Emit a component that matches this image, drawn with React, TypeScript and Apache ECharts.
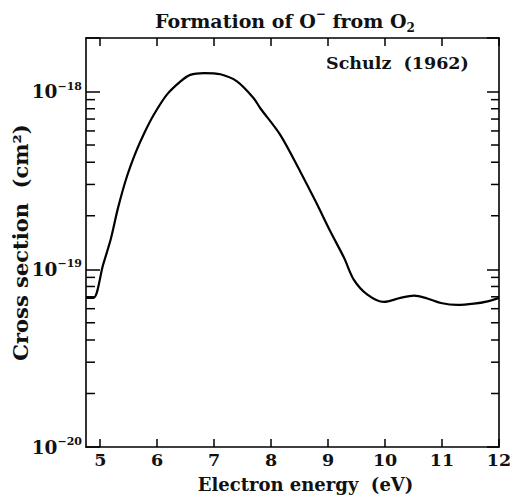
import React, { useEffect, useRef } from "react";
import * as echarts from "echarts";

const energy = [4.75, 4.88, 5.05, 5.19, 5.31, 5.46, 5.63, 5.78, 5.94, 6.17, 6.41, 6.58, 6.82, 7.11, 7.4, 7.69, 7.81, 8.16, 8.51, 8.78, 9.04, 9.28, 9.45, 9.69, 9.98, 10.27, 10.51, 10.74, 10.98, 11.27, 11.56, 11.8, 12.0];
const crossSection = [6.9e-20, 6.9e-20, 1.06e-19, 1.5e-19, 2.2e-19, 3.26e-19, 4.6e-19, 5.9e-19, 7.4e-19, 9.6e-19, 1.14e-18, 1.24e-18, 1.27e-18, 1.25e-18, 1.14e-18, 9.2e-19, 8.05e-19, 5.7e-19, 3.55e-19, 2.41e-19, 1.63e-19, 1.16e-19, 8.75e-20, 7.2e-20, 6.55e-20, 6.9e-20, 7.1e-20, 6.85e-20, 6.46e-20, 6.3e-20, 6.4e-20, 6.6e-20, 6.9e-20];
const xTicks = [5, 6, 7, 8, 9, 10, 11, 12];
const minorTicks = [2e-20, 3e-20, 4e-20, 5e-20, 6e-20, 7e-20, 8e-20, 9e-20, 2e-19, 3e-19, 4e-19, 5e-19, 6e-19, 7e-19, 8e-19, 9e-19];

const FONT = "'DejaVu Serif', 'Liberation Serif', serif";

export default function App() {
  const ref = useRef<HTMLDivElement>(null);
  useEffect(() => {
    const chart = echarts.init(ref.current!, null, { renderer: "svg" });
    const xMin = 4.75, xMax = 12;
    const axisLine = { show: true, lineStyle: { color: "#000", width: 1.6 } };
    const decadeLabel = (v: number) => {
      const e = Math.log10(v);
      const r = Math.round(e);
      if (Math.abs(e - r) > 1e-6) return "";
      return "{b|10}{s|\u2212" + Math.abs(r) + "}";
    };
    chart.setOption({
      animation: false,
      backgroundColor: "#fff",
      title: {
        text: "{a|Formation of O}{sup|\u2212}{a| from O}{sub|2}",
        left: 280,
        textAlign: "center",
        top: 3,
        textStyle: {
          rich: {
            a: { fontFamily: FONT, fontWeight: "bold", fontSize: 19, color: "#111", lineHeight: 26 },
            sup: { fontFamily: FONT, fontWeight: "bold", fontSize: 12, color: "#111", verticalAlign: "top", lineHeight: 13 },
            sub: { fontFamily: FONT, fontWeight: "bold", fontSize: 12, color: "#111", verticalAlign: "bottom", lineHeight: 13 },
          },
        },
      },
      graphic: [
        {
          type: "text",
          left: 326,
          top: 54,
          style: { text: "Schulz  (1962)", font: "bold 17.5px " + FONT, fill: "#111" },
        },
      ],
      grid: { left: 86, right: 11, top: 38, bottom: 51, outerBoundsMode: "none", containLabel: false },
      xAxis: [
        {
          type: "value",
          min: xMin,
          max: xMax,
          axisLine,
          splitLine: { show: false },
          axisTick: { show: true, inside: true, length: 8, customValues: xTicks, lineStyle: { color: "#000", width: 1.5 } },
          axisLabel: { customValues: xTicks, fontFamily: FONT, fontWeight: "bold", fontSize: 17.5, color: "#111", margin: 4 },
          name: "Electron energy  (eV)",
          nameLocation: "middle",
          nameGap: 28,
          nameMoveOverlap: false,
          nameTextStyle: { fontFamily: FONT, fontWeight: "bold", fontSize: 18, color: "#111", padding: [0, 0, 0, 26] },
        },
        {
          type: "value",
          position: "top",
          min: xMin,
          max: xMax,
          axisLine,
          splitLine: { show: false },
          axisTick: { show: true, inside: true, length: 8, customValues: xTicks, lineStyle: { color: "#000", width: 1.5 } },
          axisLabel: { show: false },
        },
      ],
      yAxis: [
        {
          type: "log",
          logBase: 10,
          min: 1e-20,
          max: 2e-18,
          axisLine,
          splitLine: { show: false },
          axisTick: { show: true, inside: true, length: 14, lineStyle: { color: "#000", width: 1.5 } },
          axisLabel: {
            formatter: decadeLabel,
            margin: 4,
            rich: {
              b: { fontFamily: FONT, fontWeight: "bold", fontSize: 18.5, color: "#111", lineHeight: 22 },
              s: { fontFamily: FONT, fontWeight: "bold", fontSize: 11, color: "#111", verticalAlign: "top", lineHeight: 11 },
            },
          },
          name: "Cross section  (cm\u00b2)",
          nameLocation: "middle",
          nameGap: 55,
          nameRotate: 90,
          nameMoveOverlap: false,
          nameTextStyle: { fontFamily: FONT, fontWeight: "bold", fontSize: 21, color: "#111" },
        },
        {
          type: "log",
          logBase: 10,
          min: 1e-20,
          max: 2e-18,
          position: "right",
          axisLine,
          splitLine: { show: false },
          axisTick: { show: true, inside: true, length: 12, lineStyle: { color: "#000", width: 1.5 } },
          axisLabel: { show: false },
        },
      ],
      series: [
        {
          type: "line",
          data: energy.map((e, i) => [e, crossSection[i]]),
          showSymbol: false,
          smooth: 0.3,
          lineStyle: { color: "#000", width: 2.2 },
        },
        {
          type: "custom",
          silent: true,
          clip: false,
          data: minorTicks.map((v) => [xMin, v]),
          encode: { x: 0, y: 1 },
          renderItem: (params: any, api: any) => {
            const pt = api.coord([api.value(0), api.value(1)]);
            const cs = params.coordSys;
            const y = pt[1];
            const style = { stroke: "#000", lineWidth: 1.5 };
            return {
              type: "group",
              children: [
                { type: "line", shape: { x1: cs.x, y1: y, x2: cs.x + 9, y2: y }, style },
                { type: "line", shape: { x1: cs.x + cs.width - 8, y1: y, x2: cs.x + cs.width, y2: y }, style },
              ],
            };
          },
        },
      ],
    });
    return () => chart.dispose();
  }, []);
  return <div ref={ref} style={{ width: 510, height: 498, position: "absolute", left: 0, top: 0 }} />;
}
